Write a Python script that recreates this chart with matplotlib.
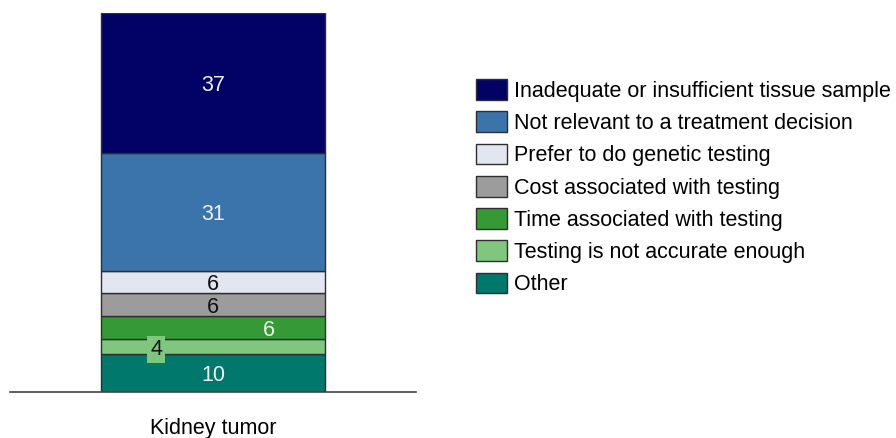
import matplotlib
matplotlib.use("Agg")
import matplotlib.pyplot as plt
from matplotlib.patches import Patch

plt.rcParams['font.family'] = ['Liberation Sans', 'DejaVu Sans']

category = "Kidney tumor"
# stacked bottom -> top
reasons = ["Other", "Testing is not accurate enough", "Time associated with testing",
           "Cost associated with testing", "Prefer to do genetic testing",
           "Not relevant to a treatment decision", "Inadequate or insufficient tissue sample"]
values = [10, 4, 6, 6, 6, 31, 37]
colors = ["#00786c", "#7fc67f", "#359a35", "#9c9c9c", "#e2e6f0", "#3a74ab", "#020266"]
label_colors = ["#f0f0f0", "#111111", "#f0f0f0", "#111111", "#111111", "#f0f0f0", "#f0f0f0"]
label_dx = [0, -0.14, 0.137, 0, 0, 0, 0]

fig = plt.figure(figsize=(8.96, 4.38), dpi=100)
ax = fig.add_axes([10/896, 1-392/438, 406/896, 379/438])

bottom = 0
for v, c, lc, dx in zip(values, colors, label_colors, label_dx):
    ax.bar(0, v, bottom=bottom, width=0.554, color=c, edgecolor="#2e2e2e", linewidth=1)
    kw = {}
    if dx != 0 and lc == "#111111":
        kw["bbox"] = dict(boxstyle="square,pad=0.14", facecolor=c, edgecolor="none")
    ax.text(0 + dx, bottom + v/2, str(v), ha="center", va="center_baseline",
            fontsize=15.5, color=lc, **kw)
    bottom += v

ax.set_xlim(-0.5, 0.5)
ax.set_ylim(0, 100)
ax.set_yticks([])
ax.set_xticks([0])
ax.set_xticklabels([category], fontsize=15.5)
ax.tick_params(axis="x", length=0, pad=18.5)
for s in ["top", "right", "left"]:
    ax.spines[s].set_visible(False)
ax.spines["bottom"].set_color("#444444")
ax.spines["bottom"].set_linewidth(1.2)

handles = [Patch(facecolor=c, edgecolor="#2e2e2e", linewidth=1, label=r)
           for r, c in zip(reasons[::-1], colors[::-1])]
fig.legend(handles=handles, loc="upper left", bbox_to_anchor=(476/896, 1-79/438),
           frameon=False, fontsize=15.5, handlelength=1.44, handleheight=1.12,
           handletextpad=0.33, labelspacing=0.44, borderpad=0, borderaxespad=0)

fig.savefig("out.png", dpi=100)
